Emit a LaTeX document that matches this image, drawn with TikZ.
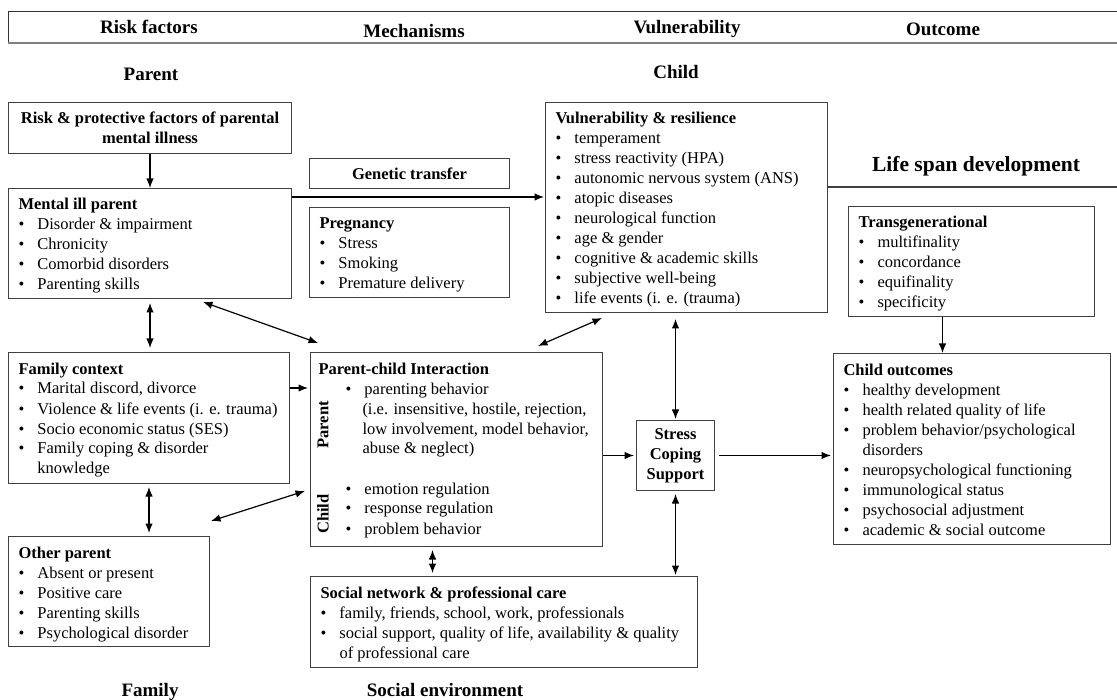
\documentclass[tikz,border=0pt]{standalone}
\usepackage{fontspec}
\setmainfont{Liberation Serif}
\usetikzlibrary{arrows.meta}

\newcommand{\inbox}[4][10]{\vbox to \dimexpr #3pt-15pt\relax{\hsize=\dimexpr #2pt-#1pt-#1pt\relax\parindent=0pt\rightskip=0pt plus 1fil\strut #4\par\vfill}}
\newcommand{\bul}{\par\hangindent=19pt\hangafter=1\noindent\makebox[19pt][l]{\textbullet}}

\tikzset{
  box/.style={draw=black!75, line width=1pt, anchor=north west, inner xsep=10pt, inner ysep=7.5pt, font=\fontsize{16.5}{20}\selectfont},
  cbox/.style={box, inner sep=0pt, align=center, font=\fontsize{16.5}{20}\selectfont\bfseries},
  head/.style={anchor=base, font=\fontsize{19}{22}\selectfont\bfseries},
  side/.style={rotate=90, font=\fontsize{16.5}{20}\selectfont\bfseries},
  link/.style={->, line width=1.2pt},
  both/.style={<->, line width=1.2pt},
}

\begin{document}
\begin{tikzpicture}[x=1pt,y=-1pt,>={Latex[length=9.5pt,width=7.5pt]}]
\useasboundingbox[fill=white] (0,0) rectangle (1117,700);

\draw[black!80, line width=1pt] (1117,12) -- (8,12) -- (8,43);
\draw[black!50, line width=1.3pt] (8,43) -- (1117,43);
\node[head] (hdRisk) at (149,34) {Risk factors};
\node[head] (hdMech) at (414,38) {Mechanisms};
\node[head] (hdVuln) at (687,34) {Vulnerability};
\node[head] (hdOut) at (943,36) {Outcome};
\node[head] (secParent) at (151,81) {Parent};
\node[head] (secChild) at (676,79) {Child};
\node[head] (secFamily) at (150,696) {Family};
\node[head] (secSocial) at (445,696) {Social environment};
\node[head, font=\fontsize{21.5}{24}\selectfont\bfseries] (lifespan) at (976,172) {Life span development};
\coordinate (lsend) at (1117,187);

\node[cbox, minimum width=283pt, minimum height=51pt] (risk) at (8,102) {Risk \& protective factors of parental\\ mental illness};
\node[box] (mental) at (8,188) {\inbox{283}{110}{\textbf{Mental ill parent}\bul Disorder \& impairment\bul Chronicity\bul Comorbid disorders\bul Parenting skills}};
\node[cbox, minimum width=200pt, minimum height=30pt] (genetic) at (309,158) {Genetic transfer};
\node[box] (pregnancy) at (309,207) {\inbox{200}{90}{\textbf{Pregnancy}\bul Stress\bul Smoking\bul Premature delivery}};
\node[box] (vuln) at (545,102) {\inbox{282}{210}{\textbf{Vulnerability \& resilience}\bul temperament\bul stress reactivity (HPA)\bul autonomic nervous system (ANS)\bul atopic diseases\bul neurological function\bul age \& gender\bul cognitive \& academic skills\bul subjective well-being\bul life events (i. e. (trauma)}};
\node[box] (trans) at (848,206) {\inbox{246}{110}{\textbf{Transgenerational}\bul multifinality\bul concordance\bul equifinality\bul specificity}};
\node[box] (family) at (8,352) {\inbox{281}{131}{\textbf{Family context}\bul Marital discord, divorce\bul \mbox{Violence \& life events (i. e. trauma)}\bul Socio economic status (SES)\bul Family coping \& disorder\newline knowledge}};
\node[box, inner xsep=8pt] (pci) at (310,352) {\inbox[8]{292}{194}{\textbf{Parent-child Interaction}\par\leftskip=27pt
  \bul\hangindent=17pt parenting behavior\newline (i.e. insensitive, hostile, rejection,\newline low involvement, model behavior,\newline abuse \& neglect)\par\vskip20pt
  \bul emotion regulation\bul response regulation\bul problem behavior}};
\node[side] (pciParent) at (323,425) {Parent};
\node[side] (pciChild) at (323,514) {Child};
\node[cbox, minimum width=78pt, minimum height=70pt] (stress) at (636,420) {Stress\\ Coping\\ Support};
\node[box] (outcomes) at (833,353) {\inbox{277}{191}{\textbf{Child outcomes}\bul healthy development\bul health related quality of life\bul problem behavior/psychological\newline disorders\bul neuropsychological functioning\bul immunological status\bul psychosocial adjustment\bul academic \& social outcome}};
\node[box] (other) at (8,536) {\inbox{201}{110}{\textbf{Other parent}\bul Absent or present\bul Positive care\bul Parenting skills\bul Psychological disorder}};
\node[box] (social) at (310,576) {\inbox{387}{91}{\textbf{Social network \& professional care}\bul family, friends, school, work, professionals\bul \mbox{social support, quality of life, availability \& quality}\newline of professional care}};

\draw[black!75, line width=1.2pt] (vuln.east |- lsend) -- (lsend);
\coordinate (gen) at ([shift={(0,9)}]mental.north east);
\coordinate (famout) at ([shift={(0,36)}]family.north east);

\draw[link] (risk.south) -- (risk.south |- mental.north);
\draw[both, shorten <=4pt, shorten >=4pt] (mental.south) -- (mental.south |- family.north);
\draw[both] ([shift={(53,3)}]mental.south) -- ([shift={(8,-9)}]pci.north west);
\draw[link, shorten >=1pt] (gen) -- (gen -| vuln.west);
\draw[both] ([shift={(57,5)}]vuln.south west) -- ([shift={(-65,-6)}]pci.north east);
\draw[both, shorten <=6pt, shorten >=1pt] (vuln.south -| stress.north) -- (stress.north);
\draw[link, shorten >=2pt] (famout) -- (famout -| pci.west);
\draw[both] ([shift={(1,-15)}]other.north east) -- ([shift={(-5,-56)}]pci.south west);
\draw[both, shorten <=3pt, shorten >=3pt] (family.south) -- (family.south |- other.north);
\draw[both, shorten <=3pt, shorten >=3pt] ([xshift=-24pt]pci.south) -- ([xshift=-24pt]pci.south |- social.north);
\draw[link, shorten >=2pt] (stress.west -| pci.east) -- (stress.west);
\draw[both, shorten <=3pt, shorten >=1pt] (stress.south) -- (stress.south |- social.north);
\draw[link, shorten <=4pt, shorten >=2pt] (stress.east) -- (stress.east -| outcomes.west);
\draw[link] ([xshift=-29pt]trans.south) -- ([xshift=-29pt]trans.south |- outcomes.north);
\end{tikzpicture}
\end{document}
